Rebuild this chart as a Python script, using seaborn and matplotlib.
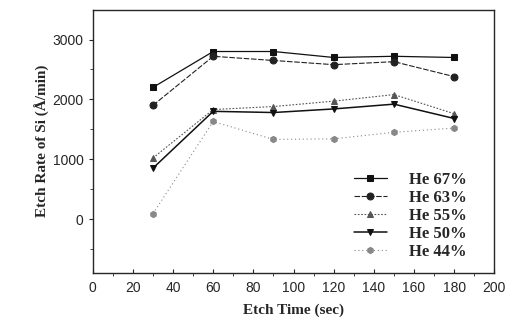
import matplotlib
matplotlib.use("Agg")
import matplotlib.pyplot as plt
import pandas as pd
import seaborn as sns

etch_time = [30, 60, 90, 120, 150, 180]
he_67 = [2200, 2800, 2800, 2700, 2720, 2700]
he_63 = [1900, 2720, 2650, 2580, 2630, 2380]
he_55 = [1020, 1830, 1880, 1970, 2080, 1760]
he_50 = [850, 1800, 1780, 1840, 1920, 1680]
he_44 = [90, 1630, 1330, 1340, 1450, 1520]
series_names = ["He 67%", "He 63%", "He 55%", "He 50%", "He 44%"]

df = pd.DataFrame({"time": etch_time * 5,
                   "rate": he_67 + he_63 + he_55 + he_50 + he_44,
                   "series": [n for n in series_names for _ in etch_time]})

sns.set_style("ticks")
fig, ax = plt.subplots(figsize=(5.15, 3.21), dpi=100)

# black/grey scan look: solid, dashed, dotted lines
styles = {
    "He 67%": dict(color="#111111", marker="s", ls="-", lw=0.9),
    "He 63%": dict(color="#222222", marker="o", ls=(0, (5, 1.5)), lw=0.8),
    "He 55%": dict(color="#555555", marker="^", ls=(0, (1.5, 1.5)), lw=0.8),
    "He 50%": dict(color="#111111", marker="v", ls="-", lw=1.1),
    "He 44%": dict(color="#888888", marker="h", ls=(0, (1, 2.5)), lw=0.8),
}
for name in series_names:
    st = styles[name]
    sub = df[df["series"] == name]
    sns.lineplot(data=sub, x="time", y="rate", ax=ax, label=name,
                 color=st["color"], marker=st["marker"], linestyle=st["ls"],
                 linewidth=st["lw"], markersize=5 if name != "He 44%" else 4.5,
                 markeredgecolor=st["color"])

ax.set_xlim(0, 200)
ax.set_ylim(-900, 3500)
ax.set_xticks(range(0, 201, 20))
ax.set_yticks([0, 1000, 2000, 3000])
ax.set_yticks([-500, 500, 1500, 2500], minor=True)
ax.set_xticks(range(10, 200, 20), minor=True)
ax.tick_params(axis="both", labelsize=10, length=3, width=0.8)
ax.tick_params(axis="x", direction="in", pad=6)
ax.tick_params(which="minor", length=2)
for lab in ax.get_xticklabels() + ax.get_yticklabels():
    lab.set_family("Liberation Sans")
for sp in ax.spines.values():
    sp.set_visible(True)
    sp.set_linewidth(1.0)

ax.set_xlabel("Etch Time (sec)", family="Liberation Serif", fontweight="bold",
              fontsize=11, labelpad=6)
ax.set_ylabel("Etch Rate of Si (Å/min)", family="Liberation Serif", fontweight="bold",
              fontsize=11, labelpad=2)

ax.legend(loc="lower right", bbox_to_anchor=(0.93, 0.05), frameon=False,
          prop={"family": "Liberation Serif", "weight": "bold", "size": 12},
          handlelength=2.0, handletextpad=1.3, labelspacing=0.12,
          borderaxespad=0, borderpad=0)

fig.subplots_adjust(left=0.18, right=0.96, bottom=0.15, top=0.97)
fig.savefig("out.png", dpi=100)
